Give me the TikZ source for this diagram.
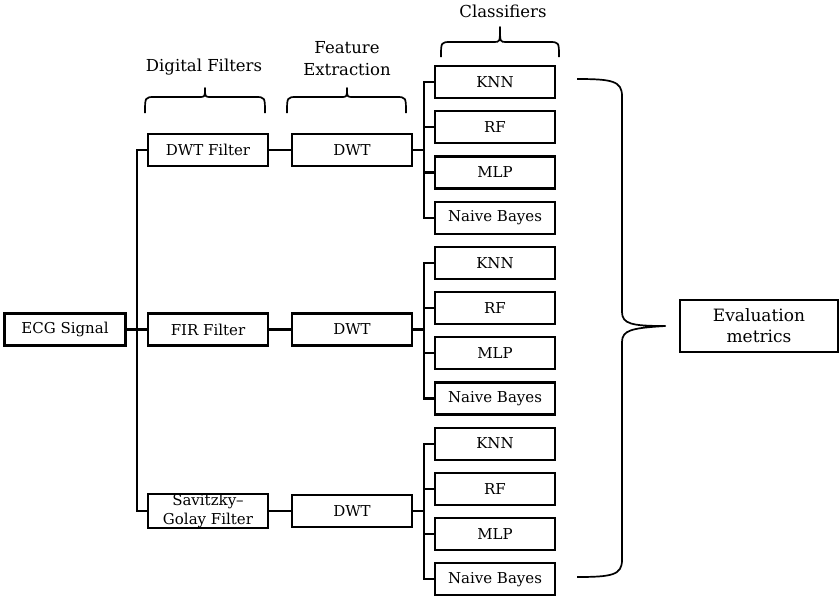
\documentclass[tikz,border=0pt]{standalone}
\usepackage{fontspec}
\setmainfont{DejaVu Serif}
\usetikzlibrary{calc}

% horizontal curly brace opening downwards: x1, x2, mid x, tip y, arm y, cusp y
\newcommand{\topbrace}[6]{%
  \draw[bracestyle] (#1,#4) .. controls (#1,#5) and (#1,#5) .. ($(#1,#5)+(10,0)$)
    -- ($(#3,#5)+(-6,0)$) .. controls (#3,#5) and (#3,#5) .. (#3,#6)
    .. controls (#3,#5) and (#3,#5) .. ($(#3,#5)+(6,0)$)
    -- ($(#2,#5)+(-10,0)$) .. controls (#2,#5) and (#2,#5) .. (#2,#4);}

\begin{document}
\begin{tikzpicture}[x=1pt,y=-1pt,
  box/.style={draw, line width=2.2pt, minimum width=120pt, minimum height=32pt,
    inner sep=0pt, align=center, font=\fontsize{15}{17}\selectfont},
  link/.style={line width=2.2pt},
  bracestyle/.style={line width=1.7pt, line join=round},
  lbl/.style={align=center, font=\fontsize{16.5}{22}\selectfont}]
\useasboundingbox (0,0) rectangle (839,598);

% input
\node[box, minimum width=121pt] (ecg) at (65,329.5) {ECG Signal};

% filters
\node[box] (f1) at (208,150) {DWT Filter};
\node[box] (f2) at (208,329.5) {FIR Filter};
\node[box, font=\fontsize{15}{19}\selectfont] (f3) at (208,511) {Savitzky–\\Golay Filter};

% feature extraction
\node[box] (d1) at (352,150) {DWT};
\node[box] (d2) at (352,329.5) {DWT};
\node[box] (d3) at (352,511) {DWT};

% classifiers
\foreach \g in {0,1,2}{
  \foreach \n [count=\k from 0] in {KNN,RF,MLP,Naive Bayes}{
    \pgfmathsetmacro{\yy}{82+45.2*(4*\g+\k)}
    \pgfmathtruncatemacro{\idx}{4*\g+\k+1}
    \node[box] (c\idx) at (495,\yy) {\n};
  }
}

% evaluation
\node[draw, line width=1.5pt, minimum width=158pt, minimum height=52pt, inner sep=0pt,
  align=center, font=\fontsize{17}{21}\selectfont] (ev) at (759,326) {Evaluation\\metrics};

% trunk from the signal to the filters
\coordinate (tk) at (137,329.5);
\draw[link] (ecg.east) -- (f2.west);
\draw[link] (f1.west) -| (tk) |- (f3.west);

% filters to feature extraction
\draw[link] (f1) -- (d1);
\draw[link] (f2) -- (d2);
\draw[link] (f3) -- (d3);

% feature extraction to classifiers
\coordinate (s1) at (424,150);
\coordinate (s2) at (424,329.5);
\coordinate (s3) at (424,511);
\draw[link] (d1.east) -- (s1);
\draw[link] (d2.east) -- (s2);
\draw[link] (d3.east) -- (s3);
\draw[link] (c1.west) -| (s1) |- (c4.west);
\draw[link] (c2.west) -- (c2.west -| s1);
\draw[link] (c3.west) -- (c3.west -| s1);
\draw[link] (c5.west) -| (s2) |- (c8.west);
\draw[link] (c6.west) -- (c6.west -| s2);
\draw[link] (c7.west) -- (c7.west -| s2);
\draw[link] (c9.west) -| (s3) |- (c12.west);
\draw[link] (c10.west) -- (c10.west -| s3);
\draw[link] (c11.west) -- (c11.west -| s3);

% group braces and their titles
\topbrace{145}{265}{205}{113}{97}{88}
\topbrace{287}{406}{347}{113}{97}{88}
\topbrace{441}{559}{500}{57}{42}{27}
\node[lbl] (tdf) at (204,67) {Digital Filters};
\node[lbl] (tfe) at (347,59) {Feature\\Extraction};
\node[lbl] (tcl) at (503,11) {Classifiers};

% large brace gathering all classifiers
\coordinate (bt) at (577,79);
\coordinate (bb) at (577,577);
\coordinate (bc) at (ev.west);
\draw[bracestyle] (bt) .. controls (612,79) and (622,81) .. (622,96)
  -- (622,312) .. controls (622,324) and (632,326) .. ($(bc)+(-14,0)$)
  .. controls (632,328) and (622,330) .. (622,342)
  -- (622,560) .. controls (622,575) and (612,577) .. (bb);
\end{tikzpicture}
\end{document}
